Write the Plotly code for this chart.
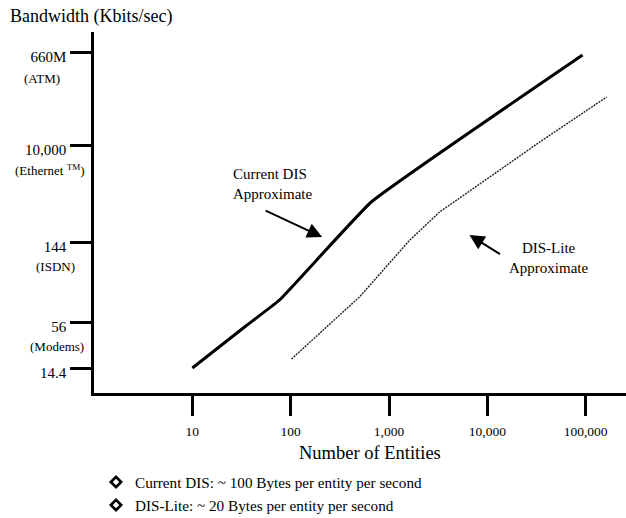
import numpy as np
import plotly.graph_objects as go

# ---- data (y in schematic "level" units of the chart's bandwidth axis) ----
current_x = [10, 35, 77, 660, 93000]
current_y = [25, 67, 93, 191, 338]

lite_x = [102, 500, 1630, 3270, 36500, 163700]
lite_y = [34, 96, 153, 181, 253, 296]

x_tick_vals = [10, 100, 1000, 10000, 100000]
x_tick_text = ["10", "100", "1,000", "10,000", "100,000"]

y_tick_vals = [25, 71, 151, 248, 341]
y_tick_text = ["14.4", "56", "144", "10,000", "660M"]
y_tick_notes = ["", "(Modems)", "(ISDN)", "(Ethernet <sup>TM</sup>)", "(ATM)"]

legend_lines = [
    "Current DIS: ~ 100 Bytes per entity per second",
    "DIS-Lite: ~ 20 Bytes per entity per second",
]

# ---- layout geometry ----
W, H = 626, 518
L, R, T, B = 94, 0, 32, 125
PW, PH = W - L - R, H - T - B
FONT = "Liberation Serif, Times New Roman, serif"


def px(xp, yp):
    return (xp - L) / PW, (H - B - yp) / PH


fig = go.Figure()
fig.add_trace(go.Scatter(x=current_x, y=current_y, mode="lines",
                         line=dict(color="black", width=3, shape="spline", smoothing=0.3),
                         hoverinfo="skip", showlegend=False))
fig.add_trace(go.Scatter(x=lite_x, y=lite_y, mode="lines",
                         line=dict(color="#222222", width=1.4, dash="2px,1px"),
                         hoverinfo="skip", showlegend=False))

ann = []
shapes = []
# y-axis title
x0, y0 = px(8, 17)
ann.append(dict(text="Bandwidth (Kbits/sec)", x=x0, y=y0, xref="paper", yref="paper",
                xanchor="left", yanchor="middle", showarrow=False,
                font=dict(size=18, color="black", family=FONT)))
# y tick notes
note_pos = {"(Modems)": (57, 346), "(ISDN)": (55, 266),
            "(Ethernet <sup>TM</sup>)": (50, 170), "(ATM)": (42, 78)}
for n in y_tick_notes:
    if not n:
        continue
    a, b = px(*note_pos[n])
    ann.append(dict(text=n, x=a, y=b, xref="paper", yref="paper", xanchor="center",
                    yanchor="middle", showarrow=False,
                    font=dict(size=13, color="black", family=FONT)))
# x-axis title
a, b = px(370, 453)
ann.append(dict(text="Number of Entities", x=a, y=b, xref="paper", yref="paper",
                xanchor="center", yanchor="middle", showarrow=False,
                font=dict(size=18.5, color="black", family=FONT)))
# line labels
a, b = px(231, 184)
ann.append(dict(text="Current DIS<br>Approximate", x=a, y=b, xref="paper", yref="paper",
                xanchor="left", yanchor="middle", align="left", showarrow=False,
                font=dict(size=15, color="black", family=FONT)))
a, b = px(548, 258)
ann.append(dict(text="DIS-Lite<br>Approximate", x=a, y=b, xref="paper", yref="paper",
                xanchor="center", yanchor="middle", align="center", showarrow=False,
                font=dict(size=15, color="black", family=FONT)))
# arrows
ann.append(dict(x=np.log10(209), y=156, xref="x", yref="y", text="", showarrow=True,
                ax=-58, ay=-27, arrowhead=2, arrowsize=1.5, arrowwidth=2,
                arrowcolor="black"))
ann.append(dict(x=np.log10(6580), y=158, xref="x", yref="y", text="", showarrow=True,
                ax=32, ay=20, arrowhead=2, arrowsize=1.5, arrowwidth=2,
                arrowcolor="black"))


def diamond(cx, cy, r):
    pts = [(cx, cy - r), (cx + r, cy), (cx, cy + r), (cx - r, cy)]
    pp = [px(a, b) for a, b in pts]
    return "M " + " L ".join(f"{a:.5f},{b:.5f}" for a, b in pp) + " Z"


# bottom legend
for i, t in enumerate(legend_lines):
    yy = 482 + 23 * i
    shapes.append(dict(type="path", xref="paper", yref="paper",
                       path=diamond(116, yy, 6.5), fillcolor="black",
                       line=dict(color="black", width=1)))
    shapes.append(dict(type="path", xref="paper", yref="paper",
                       path=diamond(116, yy, 3), fillcolor="white",
                       line=dict(color="white", width=0.5)))
    a, b = px(133, yy)
    ann.append(dict(text=t, x=a, y=b, xref="paper", yref="paper", xanchor="left",
                    yanchor="middle", showarrow=False,
                    font=dict(size=15.2, color="black", family=FONT)))

fig.update_layout(
    width=W, height=H, margin=dict(l=L, r=R, t=T, b=B),
    paper_bgcolor="white", plot_bgcolor="white",
    font=dict(family=FONT, color="black", size=13),
    annotations=ann, shapes=shapes, showlegend=False,
)
fig.update_xaxes(type="log", range=[0, 5.41], tickvals=x_tick_vals, ticktext=x_tick_text,
                 showgrid=False, zeroline=False, showline=True, linecolor="black",
                 linewidth=2.5, ticks="outside", ticklen=20, tickwidth=2.5,
                 tickcolor="black", ticklabelstandoff=4,
                 tickfont=dict(size=13.5, family=FONT, color="black"))
fig.update_yaxes(range=[0, 361], tickvals=y_tick_vals, ticktext=y_tick_text,
                 showgrid=False, zeroline=False, showline=True, linecolor="black",
                 linewidth=2.5, ticks="outside", ticklen=21, tickwidth=2.5,
                 tickcolor="black", ticklabelshift=5, ticklabelstandoff=1,
                 tickfont=dict(size=15, family=FONT, color="black"))

fig.write_html("out.html", config={"displayModeBar": False},
               post_script="document.body.style.margin='0';document.body.style.overflow='hidden';")
